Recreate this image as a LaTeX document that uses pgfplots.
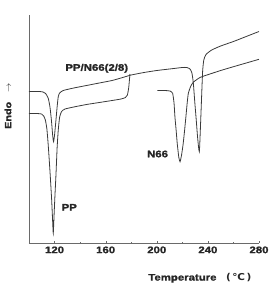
\documentclass[border=0pt]{standalone}
\usepackage{fontspec}
\setmainfont{Liberation Sans}[FakeStretch=1.2, BoldFeatures={FakeBold=1.5}]
\newfontfamily\djv{DejaVu Sans}[FakeStretch=1.1]
\usepackage{pgfplots}
\pgfplotsset{compat=1.18}
\definecolor{curve}{HTML}{3A3A3A}
\definecolor{axl}{HTML}{6A6A6A}
\begin{document}
\begin{tikzpicture}
\useasboundingbox (-29pt,-42pt) rectangle (241pt,243pt);
\begin{axis}[
  scale only axis, width=230pt, height=228pt,
  xmin=100, xmax=280, ymin=0, ymax=228,
  axis lines=left, axis line style={-, axl, line width=0.6pt},
  xtick={120,160,200,240,280}, minor x tick num=1,
  ytick=\empty,
  tick align=inside, major tick length=2pt, minor tick length=1.5pt,
  tick style={axl},
  /pgf/number format/assume math mode=true,
  ticklabel style={font=\fontsize{9.5}{10}\selectfont\bfseries, text=black!85},
  xlabel={Temperature\quad{\djv\bfseries(\,℃\,)}},
  xlabel style={at={(rel axis cs:0.743,0)}, anchor=center, yshift=-35pt, font=\fontsize{9.5}{10}\selectfont\bfseries, text=black!85},
  ylabel={Endo\quad$\rightarrow$},
  ylabel style={at={(rel axis cs:0,0.6)}, anchor=center, yshift=21pt, font=\fontsize{9}{10}\selectfont\bfseries, text=black!85},
  clip=false,
]
% PP/N66 (2/8) blend
\addplot[curve, line width=0.8pt, smooth, tension=0.35] coordinates {
(100,151.5) (108,151.5) (111,151) (113,149.5) (115,145) (116.4,136) (117.6,122) (118.5,108) (119.2,101.3) (120,108) (121.1,123) (122,136) (122.9,146.3) (124,150) (126.8,152.5) (135,155) (145,157.5) (155,160) (165,162.5) (172,165) (180,168) (190,170.5) (200,172.5) (210,174) (220,175.5) (223.5,175.5) (226,174) (227.5,170) (228.6,160) (229.8,140) (230.7,126) (232,105) (233.3,91.3) (234.3,120) (235.2,150) (235.9,172) (236.8,183) (238.5,188.5) (243,193) (250,197) (260,201.5) (270,206.5) (280,211.5)
};
% PP
\addplot[curve, line width=0.8pt, smooth, tension=0.35] coordinates {
(100,129.5) (106,129.5) (109.9,129) (111.5,127) (112.8,123) (114,114) (115.1,97) (116.4,72) (117.7,44) (118.5,22) (119,10) (119.7,30) (120.4,50) (121.1,68) (122,95) (122.9,113) (124,126) (125.5,131.5) (128.2,134) (135,136) (145,138.5) (155,140.5) (165,142.5) (172,144) (175.5,145.5) (177,148) (178,155) (178.6,163) (179,169)
};
% N66
\addplot[curve, line width=0.8pt, smooth, tension=0.35] coordinates {
(200.4,152.5) (206,152.5) (210.3,152) (212.4,149.7) (213.5,140) (214.2,126.3) (215.2,112) (216,99.7) (217.2,86) (218.2,81.3) (219.4,88) (220.7,99.7) (221.8,113) (222.8,126.3) (223.8,140) (224.7,149.7) (226.5,156.5) (228.6,160.8) (233.8,165.5) (240,168.3) (249.5,172.3) (260,176.3) (270,180) (280,183.7)
};
\node[font=\fontsize{9.5}{10}\selectfont\bfseries, text=black!85] at (axis cs:153,174.7) {PP/N66(2/8)};
\node[font=\fontsize{9.5}{10}\selectfont\bfseries, text=black!85] at (axis cs:200.6,89) {N66};
\node[font=\fontsize{9.5}{10}\selectfont\bfseries, text=black!85] at (axis cs:131.5,35.7) {PP};
\end{axis}
\end{tikzpicture}
\end{document}
